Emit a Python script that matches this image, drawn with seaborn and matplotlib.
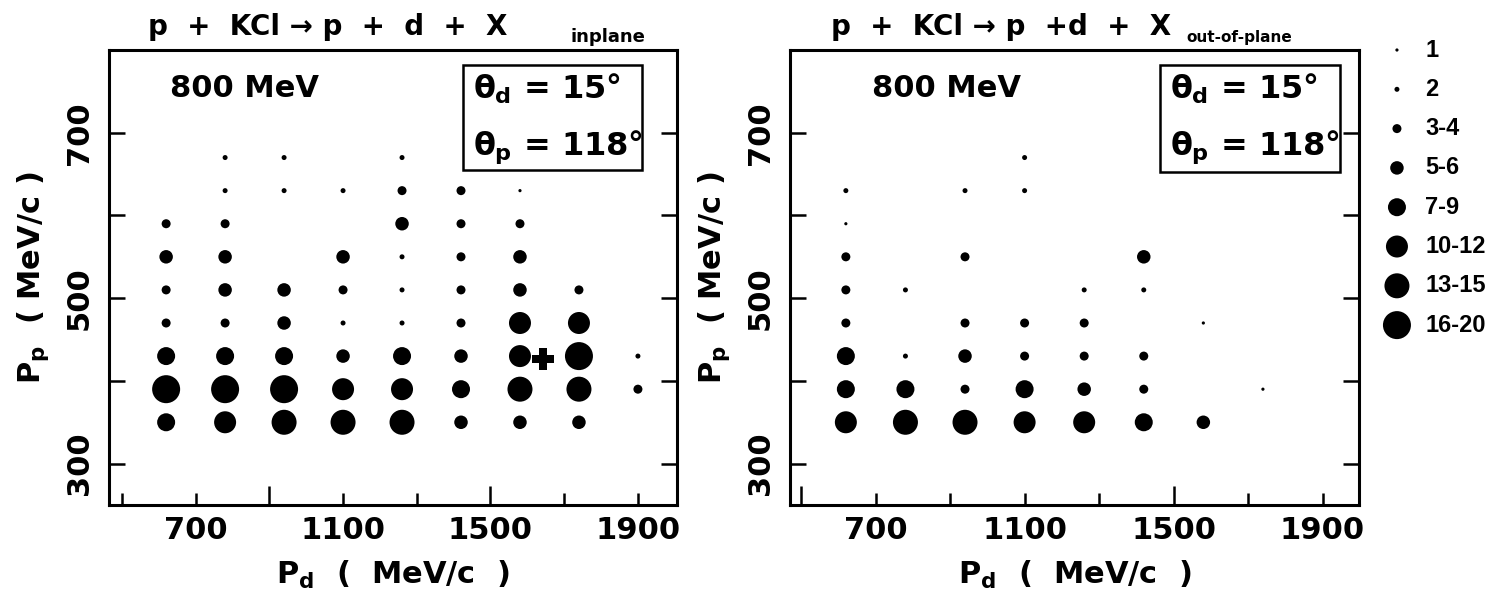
import matplotlib
matplotlib.use("Agg")
import matplotlib.pyplot as plt
import seaborn as sns
import pandas as pd
from matplotlib.patches import Rectangle

# ---------------- data ----------------
pd_bins = [620, 780, 940, 1100, 1260, 1420, 1580, 1740, 1900]   # P_d (MeV/c) column centres
pp_bins = [670, 630, 590, 550, 510, 470, 430, 390, 350]          # P_p (MeV/c) row centres

# count class index per cell (0 = empty, 1..8 -> class_labels)
inplane_class = [
    [0, 2, 2, 0, 2, 0, 0, 0, 0],
    [0, 2, 2, 2, 3, 3, 1, 0, 0],
    [3, 3, 0, 0, 4, 3, 3, 0, 0],
    [4, 4, 0, 4, 2, 3, 4, 0, 0],
    [3, 4, 4, 3, 2, 3, 4, 3, 0],
    [3, 3, 4, 2, 2, 3, 6, 6, 0],
    [5, 5, 5, 4, 5, 4, 6, 8, 2],
    [8, 8, 8, 6, 6, 5, 7, 7, 3],
    [5, 6, 7, 7, 7, 4, 4, 4, 0],
]
outplane_class = [
    [0, 0, 0, 2, 0, 0, 0, 0, 0],
    [2, 0, 2, 2, 0, 0, 0, 0, 0],
    [1, 0, 0, 0, 0, 0, 0, 0, 0],
    [3, 0, 3, 0, 0, 4, 0, 0, 0],
    [3, 2, 0, 0, 2, 2, 0, 0, 0],
    [3, 0, 3, 3, 3, 0, 1, 0, 0],
    [5, 2, 4, 3, 3, 3, 0, 0, 0],
    [5, 5, 3, 5, 4, 3, 0, 1, 0],
    [6, 7, 7, 6, 6, 5, 4, 0, 0],
]
class_labels = ["1", "2", "3-4", "5-6", "7-9", "10-12", "13-15", "16-20"]

plus_pd = [1642]
plus_pp = [426]

x_ticks = [500, 700, 900, 1100, 1300, 1500, 1700, 1900]
x_labelled = [700, 1100, 1500, 1900]
long_ticks_left = [900, 1500]
long_ticks_right = [500, 1500]
y_ticks = [300, 400, 500, 600, 700]
y_ticklabels = ["300", "", "500", "", "700"]

title_left = "p  +  KCl \u2192 p  +  d  +  X"
title_right = "p  +  KCl \u2192 p  +d  +  X"
beam_text = "800 MeV"
theta_d_text = r"$\theta_d$ = 15" + "\u00b0"
theta_p_text = r"$\theta_p$ = 118" + "\u00b0"
xlabel_text = r"$\mathrm{P}_d$  (  MeV/c  )"
ylabel_text = r"$\mathrm{P}_p$  ( MeV/c )"

# ---------------- style ----------------
sns.set_theme(style="ticks")
plt.rcParams["font.family"] = ["DejaVu Sans"]
plt.rcParams["font.weight"] = "bold"
plt.rcParams["axes.labelweight"] = "bold"
plt.rcParams["text.color"] = "black"
plt.rcParams["axes.labelcolor"] = "black"
plt.rcParams["xtick.color"] = "black"
plt.rcParams["ytick.color"] = "black"
plt.rcParams["mathtext.fontset"] = "custom"
plt.rcParams["mathtext.rm"] = "DejaVu Sans:bold"
plt.rcParams["mathtext.it"] = "DejaVu Sans:bold"
plt.rcParams["mathtext.bf"] = "DejaVu Sans:bold"

NARROW = ["Liberation Sans", "DejaVu Sans"]

W, H = 1493, 598
fig = plt.figure(figsize=(W / 100, H / 100), dpi=100)
fig.patch.set_facecolor("white")


def fx(x):
    return x / W


def fy(y):
    return 1 - y / H


diam_px = [3.2, 5.0, 9, 13.5, 18, 22, 25, 28]
size_map = {lab: (d * 0.72) ** 2 for lab, d in zip(class_labels, diam_px)}


def grid_frame(grid):
    rows = []
    for i, ppv in enumerate(pp_bins):
        for j, pdv in enumerate(pd_bins):
            c = grid[i][j]
            if c > 0:
                rows.append({"pd": pdv, "pp": ppv, "cls": class_labels[c - 1]})
    return pd.DataFrame(rows)


def lab(v):
    return str(v) if v in x_labelled else ""


def setup(ax, xlim, long_ticks):
    ax.set_facecolor("white")
    ax.set_xlim(*xlim)
    ax.set_ylim(250, 800)
    major = [t for t in x_ticks if t in long_ticks]
    minor = [t for t in x_ticks if t not in long_ticks]
    ax.set_xticks(major)
    ax.set_xticklabels([lab(t) for t in major])
    ax.set_xticks(minor, minor=True)
    ax.set_xticklabels([lab(t) for t in minor], minor=True)
    ax.set_yticks(y_ticks)
    ax.set_yticklabels(y_ticklabels, rotation=90, va="center")
    ax.tick_params(axis="both", which="both", direction="in", width=1.8,
                   colors="black", labelcolor="black", labelsize=22)
    ax.tick_params(axis="x", which="major", length=14, pad=8, top=False,
                   bottom=True)
    ax.tick_params(axis="x", which="minor", length=9, pad=8, top=False,
                   bottom=True)
    ax.tick_params(axis="y", which="major", length=11.5, pad=11, left=True,
                   right=True)
    ax.tick_params(axis="y", which="minor", left=False, right=False)
    for s in ax.spines.values():
        s.set_visible(True)
        s.set_linewidth(2.2)
        s.set_color("black")
    ax.set_xlabel(xlabel_text, fontsize=22, labelpad=10, color="black")
    ax.set_ylabel(ylabel_text, fontsize=22, labelpad=10, color="black")


ax_l = fig.add_axes([fx(109), (H - 505) / H, 568 / W, 455 / H])
ax_r = fig.add_axes([fx(790), (H - 505) / H, 569 / W, 455 / H])

for ax, grid, xlim, lt in [(ax_l, inplane_class, (465, 2006), long_ticks_left),
                           (ax_r, outplane_class, (470, 1998), long_ticks_right)]:
    df = grid_frame(grid)
    sns.scatterplot(data=df, x="pd", y="pp", size="cls", sizes=size_map,
                    size_order=class_labels, color="black", linewidth=0,
                    legend=False, ax=ax)
    setup(ax, xlim, lt)

sns.scatterplot(x=plus_pd, y=plus_pp, marker="P", s=260, color="black",
                linewidth=0, legend=False, ax=ax_l)

# legend column
ax_g = fig.add_axes([fx(1380), (H - 345) / H, 113 / W, 315 / H])
ax_g.set_axis_off()
leg_df = pd.DataFrame({"k": list(range(len(class_labels))),
                       "x": [0.15] * len(class_labels),
                       "cls": class_labels})
sns.scatterplot(data=leg_df, x="x", y="k", size="cls", sizes=size_map,
                size_order=class_labels, color="black", linewidth=0,
                legend=False, ax=ax_g, clip_on=False)
ax_g.set_xlim(0, 1)
ax_g.set_ylim(7.506, -0.509)
for k, text in enumerate(class_labels):
    ax_g.text(0.40, k, text, ha="left", va="center", fontsize=17,
              family=NARROW, weight="bold", color="black")

# titles and annotations
fig.text(fx(328), fy(35), title_left, ha="center", va="baseline",
         fontsize=20, weight="bold", color="black")
fig.text(fx(1001), fy(35), title_right, ha="center", va="baseline",
         fontsize=20, weight="bold", color="black")
fig.text(fx(570), fy(42), "inplane", ha="left", va="baseline", fontsize=13,
         weight="bold", color="black")
fig.text(fx(1186), fy(42), "out-of-plane", ha="left", va="baseline",
         fontsize=11, weight="bold", color="black")

for x0, bx0, bx1, by1 in [(170, 463, 642, 170), (872, 1160, 1340, 172)]:
    fig.text(fx(x0), fy(97), beam_text, ha="left", va="baseline",
             fontsize=22, weight="bold", color="black")
    fig.patches.append(Rectangle((fx(bx0), fy(by1)), (bx1 - bx0) / W,
                                 (by1 - 65) / H, fill=False, lw=1.8,
                                 edgecolor="black", transform=fig.transFigure))
    fig.text(fx(bx0 + 10), fy(99), theta_d_text, ha="left", va="baseline",
             fontsize=23, weight="bold", color="black")
    fig.text(fx(bx0 + 10), fy(155), theta_p_text, ha="left", va="baseline",
             fontsize=23, weight="bold", color="black")

fig.savefig("out.png", dpi=100, facecolor="white")
